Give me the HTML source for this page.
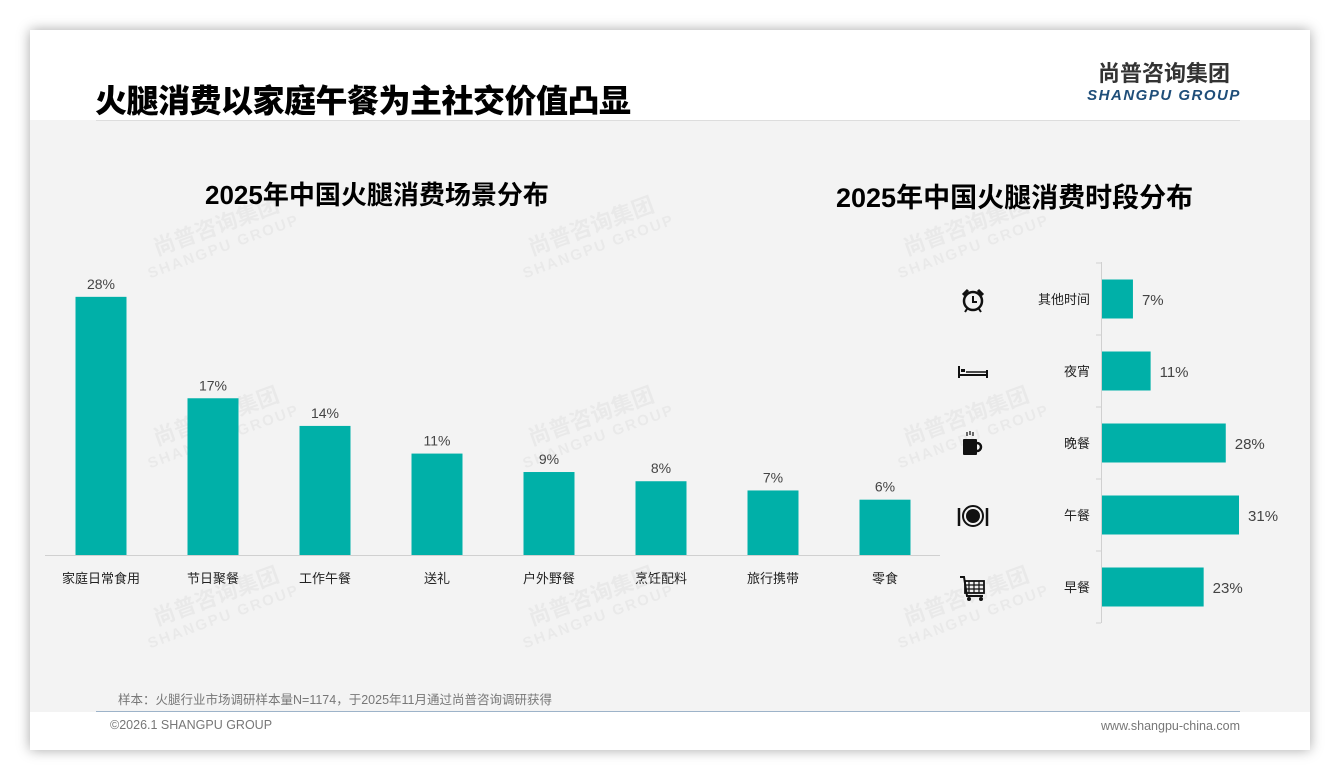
<!DOCTYPE html>
<html><head><meta charset="utf-8"><style>
body{margin:0;width:1340px;height:780px;background:#fff;font-family:"Liberation Sans","Noto Sans CJK SC",sans-serif;position:relative;overflow:hidden}
.card{position:absolute;left:30px;top:30px;width:1280px;height:720px;background:#fff;box-shadow:0 0 12px rgba(0,0,0,.35)}
.gray{position:absolute;left:30px;top:120px;width:1280px;height:592px;background:#f3f3f3}
.abs{position:absolute}
.wm{position:absolute;color:rgba(0,0,0,.04);font-weight:bold;transform:rotate(-20deg);font-size:22px;line-height:22px;text-align:center}
.wm span{display:block;font-size:15px;letter-spacing:2px}
</style></head><body>
<div class="card"></div>
<div class="gray"></div>
<div class="abs" style="left:95px;top:76px;font-size:32px;font-weight:900;color:#000;letter-spacing:-0.5px">火腿消费以家庭午餐为主社交价值凸显</div>
<div class="abs" style="left:96px;top:120px;width:1144px;height:1px;background:#ddd"></div>
<div class="abs" style="left:1086px;top:61px;text-align:center;width:156px"><div style="font-size:22px;font-weight:bold;color:#333;letter-spacing:0px;line-height:26px">尚普咨询集团</div><div style="font-size:15px;font-weight:bold;font-style:italic;color:#1f4e79;letter-spacing:1.5px;line-height:18px">SHANGPU GROUP</div></div>
<div class="abs" style="left:205px;top:175px;font-size:26px;font-weight:bold">2025年中国火腿消费场景分布</div>
<div class="abs" style="left:836px;top:176px;font-size:27px;font-weight:bold">2025年中国火腿消费时段分布</div>
<div id="wms"></div>
<svg class="abs" style="left:0;top:0" width="1340" height="780" id="chart"></svg>
<div class="abs" style="left:118px;top:689px;font-size:12.5px;color:#777">样本：火腿行业市场调研样本量N=1174，于2025年11月通过尚普咨询调研获得</div>
<div class="abs" style="left:96px;top:711px;width:1144px;height:1px;background:#9db3c9"></div>
<div class="abs" style="left:110px;top:718px;font-size:12.5px;color:#777">©2026.1 SHANGPU GROUP</div>
<div class="abs" style="right:100px;top:719px;font-size:12.5px;color:#777">www.shangpu-china.com</div>
<script>
const sceneCats=["家庭日常食用","节日聚餐","工作午餐","送礼","户外野餐","烹饪配料","旅行携带","零食"];
const sceneVals=[28,17,14,11,9,8,7,6];
const timeCats=["其他时间","夜宵","晚餐","午餐","早餐"];
const timeVals=[7,11,28,31,23];
const NS="http://www.w3.org/2000/svg";
const svg=document.getElementById('chart');
function mk(t,a,txt,p){const e=document.createElementNS(NS,t);for(const k in a)e.setAttribute(k,a[k]);if(txt!=null)e.textContent=txt;(p||svg).appendChild(e);return e;}
const TEAL="#00b0a8";
const base=555, sy=v=>base-v*9.22, sx=i=>101+i*112;
let ax=mk('line',{x1:45,x2:940,y1:base+0.5,y2:base+0.5,stroke:'#d0d0d0'});

sceneVals.forEach((v,i)=>{
 const r=mk('rect',{x:sx(i)-25.5,y:sy(v),width:51,height:base-sy(v),fill:TEAL});
 
 const t=mk('text',{x:sx(i),y:sy(v)-8,'text-anchor':'middle','font-size':14,fill:'#444'},v+'%');
 
 const c=mk('text',{x:sx(i),y:583,'text-anchor':'middle','font-size':13,fill:'#222'},sceneCats[i]);
 
});
const x0=1101, hx=v=>x0+v*4.42, hy=i=>299+i*72;
let ay=mk('line',{x1:x0+0.5,x2:x0+0.5,y1:262,y2:623,stroke:'#d0d0d0'});

for(let i=0;i<=5;i++){const tk=mk('line',{x1:x0-5,x2:x0,y1:263+i*72,y2:263+i*72,stroke:'#d0d0d0'});}
const iconSvgs=[
 '<circle cx="0" cy="1" r="9" fill="none" stroke="#111" stroke-width="2.5"/><path d="M0 -4V2H4" stroke="#111" stroke-width="2" fill="none"/><path d="M-10 -5L-5 -10M10 -5L5 -10" stroke="#111" stroke-width="3"/><path d="M-6 9L-8 12M6 9L8 12" stroke="#111" stroke-width="2"/>',
 '<path d="M-14 -6V6M14 -2V6M-14 3H14" stroke="#111" stroke-width="2" fill="none"/><rect x="-12" y="-3" width="4" height="3" fill="#111"/><path d="M-7 0H14" stroke="#111" stroke-width="1.5"/>',
 '<rect x="-10" y="-5" width="14" height="16" rx="1" fill="#111"/><path d="M4 -1a4 4 0 0 1 0 8" stroke="#111" stroke-width="2.5" fill="none"/><path d="M-6 -12v4M-3 -13v4M0 -12v4" stroke="#111" stroke-width="1.2"/>',
 '<circle cx="0" cy="0" r="10" fill="none" stroke="#111" stroke-width="2"/><circle cx="0" cy="0" r="7" fill="#111"/><path d="M-14 -8V10M14 -8V10" stroke="#111" stroke-width="2.5"/>',
 '<path d="M-13 -11H-9L-6 8H10" stroke="#111" stroke-width="2" fill="none"/><rect x="-8" y="-7" width="19" height="12" fill="none" stroke="#111" stroke-width="1.8"/><path d="M-8 -3H11M-8 1H11M-4 -7V5M1 -7V5M6 -7V5" stroke="#111" stroke-width="1.2"/><circle cx="-4" cy="11" r="2" fill="#111"/><circle cx="8" cy="11" r="2" fill="#111"/>'
];
timeVals.forEach((v,i)=>{
 const r=mk('rect',{x:x0+1,y:hy(i)-19.5,width:hx(v)-x0,height:39,fill:TEAL});
 
 const t=mk('text',{x:hx(v)+10,y:hy(i)+6,'font-size':15,fill:'#444'},v+'%');
 
 const c=mk('text',{x:1090,y:hy(i)+5,'text-anchor':'end','font-size':13,fill:'#222'},timeCats[i]);
 
 const g=mk('g',{transform:'translate(973,'+(hy(i)+1)+')'});
 g.innerHTML=iconSvgs[i];
 
});
const wm=document.getElementById('wms');
[[140,215],[515,215],[890,215],[140,405],[515,405],[890,405],[140,585],[515,585],[890,585]].forEach(p=>{
 const d=document.createElement('div');d.className='wm';d.style.left=p[0]+'px';d.style.top=p[1]+'px';
 d.innerHTML='尚普咨询集团<span>SHANGPU GROUP</span>';
 
 
 wm.appendChild(d);
});
</script>
</body></html>
